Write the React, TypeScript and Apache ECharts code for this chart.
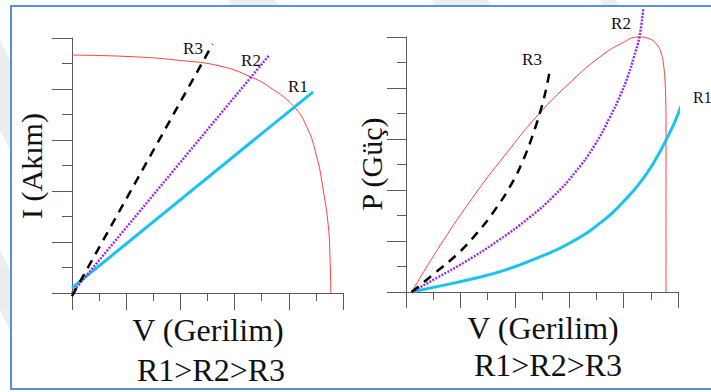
import React, { useEffect, useRef } from "react";
import * as echarts from "echarts";

// Left chart: I-V characteristic (V units 0..10, I units 0..10)
const ivV = [0, 2.14, 3.99, 5.46, 6.63, 7.31, 8.17, 8.66, 9.03, 9.27, 9.46, 9.52, 9.55];
const ivI = [9.33, 9.27, 9.12, 8.9, 8.46, 8.06, 7.33, 6.52, 5.35, 4.04, 2.6, 1.42, 0];

// Load lines (left)
const lineR1V = [0, 8.9];
const lineR1I = [0.2, 7.89];
const lineR2V = [0, 7.28];
const lineR2I = [0, 9.33];
const lineR3V = [0, 5.19];
const lineR3I = [-0.12, 9.76];

// Right chart: P-V characteristic
const pvV = [0.21, 1.18, 2.43, 3.64, 4.85, 6.09, 7.13, 7.93, 8.54, 8.97, 9.23, 9.38, 9.47, 9.52, 9.55, 9.56, 9.56];
const pvP = [0, 1.7, 3.67, 5.37, 6.94, 8.27, 9.22, 9.75, 10.0, 9.92, 9.69, 9.37, 8.9, 8.31, 7.53, 6.55, 0];

const powR1V = [0.21, 1.18, 2.42, 3.64, 4.86, 6.09, 7.32, 7.98, 8.54, 9.08, 9.58, 10.01, 10.44];
const powR1P = [0, 0.22, 0.51, 0.86, 1.35, 1.96, 2.86, 3.53, 4.2, 5.02, 6.0, 7.0, 8.39];
const powR2V = [0.21, 1.18, 2.17, 3.38, 4.56, 5.4, 6.21, 6.95, 7.5, 7.87, 8.16, 8.38, 8.58, 8.72];
const powR2P = [0, 0.58, 1.18, 2.01, 2.94, 3.73, 4.68, 5.78, 6.86, 7.69, 8.47, 9.22, 10.0, 11.09];
const powR3V = [0.21, 1.07, 1.92, 2.6, 3.27, 3.89, 4.31, 4.68, 4.99, 5.17, 5.29];
const powR3P = [0, 0.75, 1.52, 2.3, 3.22, 4.26, 5.18, 6.22, 7.27, 8.05, 8.71];

const axisMin = 0;
const axisMax = 10;
const majorStep = 2;

const zip = (a: number[], b: number[]) => a.map((v, i) => [v, b[i]]);

const AXIS_COLOR = "#5a5a5a";
const RED = "#ff3f3f";
const BLUE = "#18c3ef";
const PURPLE = "#9a2fe6";
const BLACK = "#000000";
const FONT = "Liberation Serif";

function axisCfg(gridIndex: number, longLen: number, shortLen: number) {
  return {
    gridIndex,
    type: "value",
    min: axisMin,
    max: axisMax,
    interval: majorStep,
    axisLine: { show: true, onZero: false, lineStyle: { color: AXIS_COLOR, width: 1 } },
    axisTick: { show: true, length: longLen, lineStyle: { color: AXIS_COLOR, width: 1 } },
    minorTick: { show: true, splitNumber: 2, length: shortLen, lineStyle: { color: AXIS_COLOR, width: 1 } },
    axisLabel: { show: false },
    splitLine: { show: false },
    minorSplitLine: { show: false },
  };
}

function lineSeries(xi: number, data: number[][], color: string, width: number, type: any, smooth: any) {
  return {
    type: "line",
    xAxisIndex: xi,
    yAxisIndex: xi,
    data,
    showSymbol: false,
    symbol: "none",
    smooth,
    clip: false,
    lineStyle: { color, width, type },
    silent: true,
  };
}

function label(text: string, x: number, y: number, size: number, rotation = 0, align = "center") {
  return {
    type: "text",
    x,
    y,
    rotation,
    z: 10,
    style: {
      text,
      fontFamily: FONT,
      fontSize: size,
      fill: "#111111",
      align,
      verticalAlign: "middle",
    },
  };
}

export default function App() {
  const ref = useRef<HTMLDivElement>(null);
  useEffect(() => {
    if (!ref.current) return;
    const chart = echarts.init(ref.current, undefined, { renderer: "svg" });
    const wm = "#ededed";
    chart.setOption({
      animation: false,
      backgroundColor: "#ffffff",
      grid: [
        { left: 72, top: 38, width: 271, height: 255 },
        { left: 406, top: 37, width: 272, height: 255 },
      ],
      xAxis: [axisCfg(0, 17, 8), axisCfg(1, 16, 8)],
      yAxis: [axisCfg(0, 20, 10), axisCfg(1, 19, 9)],
      series: [
        lineSeries(0, zip(ivV, ivI), RED, 1, "solid", 0.5),
        lineSeries(0, zip(lineR1V, lineR1I), BLUE, 3, "solid", false),
        lineSeries(0, zip(lineR2V, lineR2I), PURPLE, 2.5, [2, 1.4], false),
        lineSeries(0, zip(lineR3V, lineR3I), BLACK, 2.5, [9, 7], false),
        lineSeries(1, zip(pvV, pvP), RED, 1, "solid", 0.5),
        lineSeries(1, zip(powR1V, powR1P), BLUE, 3, "solid", 0.5),
        lineSeries(1, zip(powR2V, powR2P), PURPLE, 2.5, [2, 1.4], 0.5),
        lineSeries(1, zip(powR3V, powR3P), BLACK, 2.5, [9, 7], 0.5),
      ],
      graphic: [
        { type: "polygon", z: -10, shape: { points: [[0, 40], [10, 60], [10, 150], [0, 130]] }, style: { fill: wm } },
        { type: "polygon", z: -10, shape: { points: [[0, 250], [10, 270], [10, 330], [0, 310]] }, style: { fill: wm } },
        { type: "polygon", z: -10, shape: { points: [[228, 0], [275, 0], [278, 5], [231, 5]] }, style: { fill: wm } },
        { type: "polygon", z: -10, shape: { points: [[432, 0], [488, 0], [491, 5], [435, 5]] }, style: { fill: wm } },
        { type: "polygon", z: -10, shape: { points: [[600, 0], [616, 0], [619, 5], [603, 5]] }, style: { fill: wm } },
        {
          type: "rect",
          z: 5,
          shape: { x: 11, y: 6, width: 720, height: 383 },
          style: { fill: "none", stroke: "#5b8fdc", lineWidth: 2 },
        },
        label("I (Akım)", 31, 166, 30, Math.PI / 2),
        label("V (Gerilim)", 208, 330, 32),
        label("R1>R2>R3", 211, 370, 32),
        label("R3", 193, 48, 17),
        label("R2", 251, 60, 17),
        label("R1", 298, 86, 17),
        label("P (Güç)", 371, 164, 30, Math.PI / 2),
        label("V (Gerilim)", 543, 328, 32),
        label("R1>R2>R3", 548, 365, 32),
        label("R3", 532, 59, 17),
        label("R2", 621, 23, 17),
        label("R1", 693, 97, 16, 0, "left"),
      ],
    });
    return () => chart.dispose();
  }, []);
  return (
    <div
      ref={ref}
      style={{ position: "absolute", left: 0, top: 0, width: 711, height: 392 }}
    />
  );
}
